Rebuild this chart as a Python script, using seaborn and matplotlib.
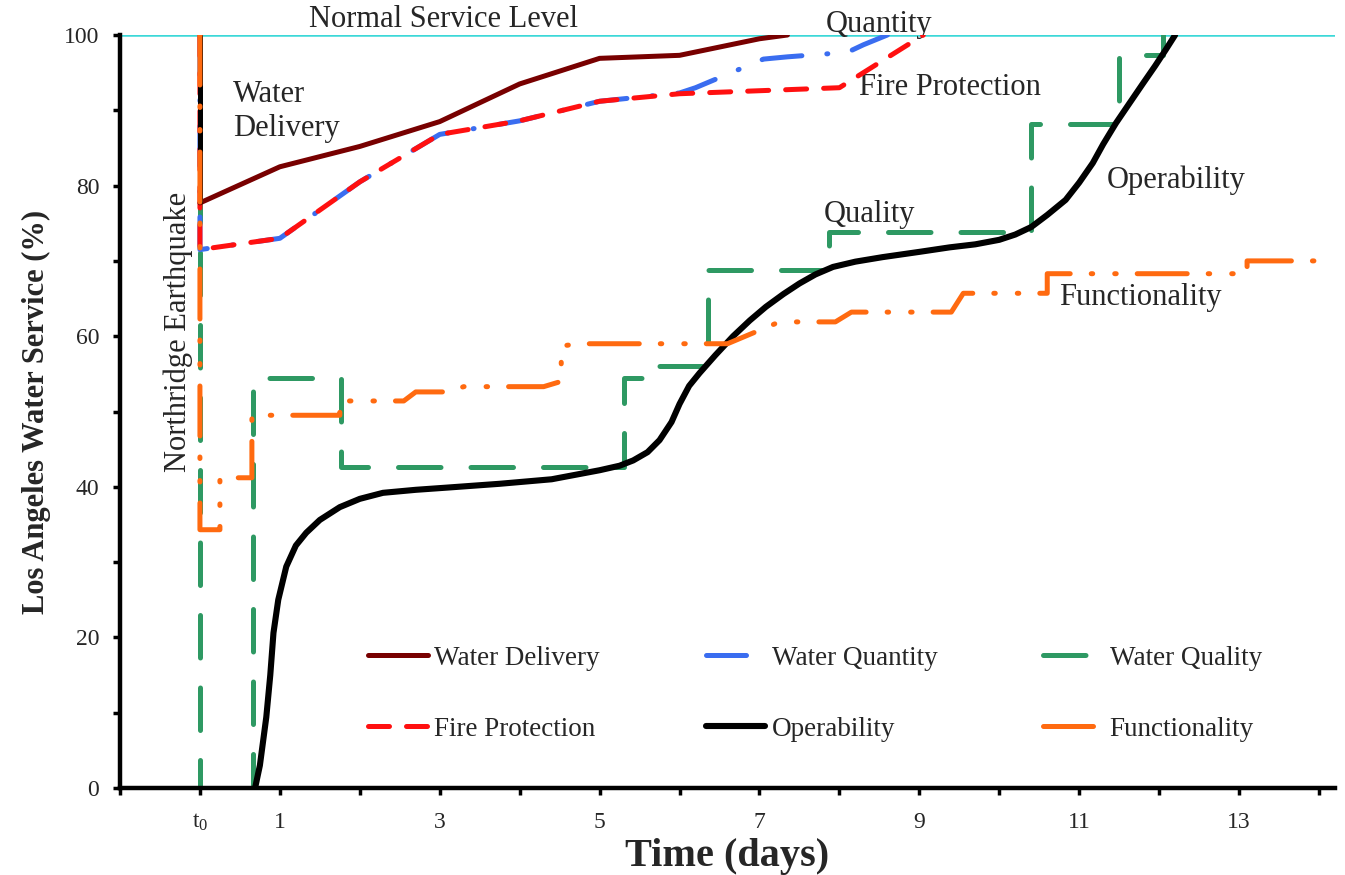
import numpy as np
import pandas as pd
import matplotlib
matplotlib.use("Agg")
import matplotlib.pyplot as plt
import seaborn as sns
from matplotlib.ticker import MultipleLocator, FixedLocator

# values (time in days after t0, service in %)
delivery_x = [0, 1, 2, 3, 4, 5, 6, 7, 7.35]
delivery_y = [77.7, 82.5, 85.2, 88.5, 93.5, 96.9, 97.3, 99.5, 100]

quantity_x = [0, 0, 1, 2, 3, 4, 5, 6, 6.2, 7.05, 7.35, 8.1, 8.3, 8.6]
quantity_y = [100, 71.5, 73, 80.5, 86.8, 88.6, 91.2, 92.3, 93, 96.8, 97.1, 97.7, 98.7, 100]

fire_x = [0, 0, 1, 2, 3, 4, 5, 6, 8, 9.05]
fire_y = [100, 71.5, 73, 80.5, 86.8, 88.6, 91.2, 92.2, 93, 100]

# step values (steps-post)
quality_x = [0, 0, 0.66, 1.77, 5.3, 5.65, 6.35, 7.87, 10.4, 11.5, 12.05]
quality_y = [100, 0, 54.4, 42.6, 54.5, 56, 68.8, 73.8, 88.2, 97.4, 100]

oper_x = [0.69, 0.75, 0.83, 0.88, 0.92, 0.98, 1.08, 1.2, 1.33, 1.5, 1.75, 2.0, 2.29, 2.7,
          3.1, 3.75, 4.4, 5.0, 5.25, 5.42, 5.6, 5.75, 5.9, 6.0, 6.12, 6.25, 6.45, 6.67,
          6.88, 7.08, 7.3, 7.5, 7.7, 7.92, 8.2, 8.54, 9.0, 9.38, 9.7, 10.0, 10.2, 10.4,
          10.6, 10.83, 11.0, 11.17, 11.3, 11.46, 11.62, 11.8, 11.95, 12.08, 12.2]
oper_y = [0, 3, 9.4, 15, 20.6, 25, 29.4, 32.2, 33.9, 35.6, 37.3, 38.4, 39.2, 39.6,
          39.9, 40.4, 41.0, 42.2, 42.8, 43.5, 44.6, 46.2, 48.6, 51, 53.4, 55.1, 57.5, 60,
          62.1, 63.9, 65.6, 67, 68.2, 69.2, 69.9, 70.5, 71.2, 71.8, 72.2, 72.8, 73.5, 74.5,
          76.1, 78.1, 80.4, 83, 85.5, 88.3, 90.8, 93.6, 95.9, 98, 100]

func_x = [0, 0, 0.25, 0.25, 0.65, 0.65, 1.75, 1.75, 2.55, 2.7, 3.1, 3.3, 4.3, 4.52, 4.52,
          4.75, 6.6, 7.25, 7.95, 8.15, 9.4, 9.55, 10.6, 10.6, 13.1, 13.1, 14.0]
func_y = [100, 34.3, 34.3, 41.2, 41.2, 49.5, 49.5, 51.4, 51.4, 52.6, 52.6, 53.3, 53.3, 54,
          58.7, 59, 59, 61.9, 61.9, 63.2, 63.2, 65.7, 65.7, 68.3, 68.3, 70, 70]

xtick_pos = [0, 1, 3, 5, 7, 9, 11, 13]
xtick_lab = [r"$\mathregular{t_0}$", "1", "3", "5", "7", "9", "11", "13"]

sns.set_style("ticks")
plt.rcParams["font.family"] = ["Liberation Serif", "DejaVu Serif"]
plt.rcParams["mathtext.fontset"] = "custom"
plt.rcParams["mathtext.rm"] = "Liberation Serif"

fig = plt.figure(figsize=(13.45, 8.75), dpi=100)
ax = fig.add_axes([120 / 1345, 1 - 788 / 875, 1215 / 1345, 753 / 875])

lw = 3.6
ax.axhline(100, color="#3cd8d8", lw=1.8, zorder=1)

sns.lineplot(x=quality_x, y=quality_y, ax=ax, estimator=None, sort=False,
             drawstyle="steps-post", color="#2e9963", lw=lw,
             linestyle=(0, (8.5, 6)), dash_capstyle="round", label="Water Quality", zorder=2)
sns.lineplot(x=quantity_x, y=quantity_y, ax=ax, estimator=None, sort=False,
             color="#3a6df0", lw=lw, linestyle=(0, (8, 5, 0.2, 5)),
             dash_capstyle="round", label="Water Quantity", zorder=3)
sns.lineplot(x=fire_x, y=fire_y, ax=ax, estimator=None, sort=False,
             color="#ff1010", lw=lw, linestyle=(0, (4.2, 3.4)),
             dash_capstyle="round", label="Fire Protection", zorder=4)
sns.lineplot(x=delivery_x, y=delivery_y, ax=ax, estimator=None, sort=False,
             color="#780000", lw=lw, label="Water Delivery", zorder=5)
# earthquake marker at t0
ax.vlines(xtick_pos[0], delivery_y[0], 100, color="black", lw=lw, zorder=5)
sns.lineplot(x=oper_x, y=oper_y, ax=ax, estimator=None, sort=False,
             color="black", lw=4.4, label="Operability", zorder=6)
sns.lineplot(x=func_x, y=func_y, ax=ax, estimator=None, sort=False,
             color="#ff6a10", lw=lw, linestyle=(0, (10, 4.2, 0.3, 4.4, 0.3, 4.2)),
             dash_capstyle="round", label="Functionality", zorder=7)

ax.set_xlim(-1, 14.2)
ax.set_ylim(0, 100)

ax.xaxis.set_major_locator(FixedLocator(xtick_pos))
ax.set_xticklabels(xtick_lab)
ax.xaxis.set_minor_locator(MultipleLocator(1))
ax.yaxis.set_major_locator(MultipleLocator(20))
ax.yaxis.set_minor_locator(MultipleLocator(10))
ax.tick_params(axis="both", which="both", direction="out", length=5, width=2.5, color="black")
ax.tick_params(axis="x", which="major", labelsize=17, pad=12)
ax.tick_params(axis="y", which="major", labelsize=17, pad=10)

for s in ["top", "right"]:
    ax.spines[s].set_visible(False)
for s in ["left", "bottom"]:
    ax.spines[s].set_linewidth(3.2)
    ax.spines[s].set_color("black")

ax.set_xlabel("Time (days)", fontsize=29, fontweight="bold", labelpad=4)
ax.set_ylabel("Los Angeles Water Service (%)", fontsize=22, fontweight="bold", labelpad=9)

# curve labels
fs = 22
ax.text(3.05, 100.1, "Normal Service Level", fontsize=fs, ha="center", va="bottom")
ax.text(8.5, 101.4, "Quantity", fontsize=fs, ha="center", va="center", clip_on=False)
ax.text(0.41, 94.0, "Water\nDelivery", fontsize=fs, ha="left", va="top", linespacing=1.2)
ax.text(8.25, 93.0, "Fire Protection", fontsize=fs, ha="left", va="center")
ax.text(7.8, 76.1, "Quality", fontsize=fs, ha="left", va="center")
ax.text(11.34, 80.7, "Operability", fontsize=fs, ha="left", va="center")
ax.text(10.75, 65.1, "Functionality", fontsize=fs, ha="left", va="center")
ax.text(-0.27, 60.5, "Northridge Earthquake", fontsize=fs, ha="center", va="center", rotation=90)

h, l = ax.get_legend_handles_labels()
order = ["Water Delivery", "Fire Protection", "Water Quantity", "Operability",
         "Water Quality", "Functionality"]
hd = dict(zip(l, h))
ax.legend([hd[k] for k in order], order, ncol=3, loc="center",
          bbox_to_anchor=(0.572, 0.125), frameon=False, fontsize=19.5,
          handlelength=2.2, handletextpad=0.25, columnspacing=3.9, labelspacing=1.7)

fig.savefig("out.png", dpi=100)
